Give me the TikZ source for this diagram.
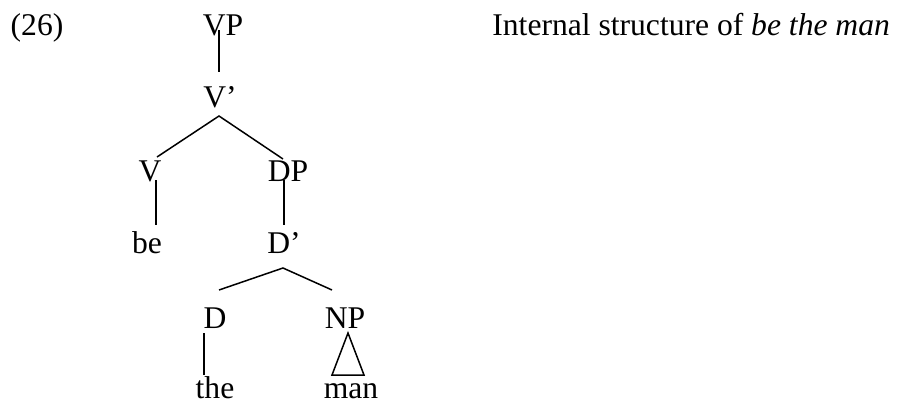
\documentclass[tikz,border=0pt]{standalone}
\usepackage{fontspec}
\setmainfont{Liberation Serif}
\usepackage{tikz}

\begin{document}
\begin{tikzpicture}[x=0.5pt,y=-0.5pt]
        \tikzstyle{word} = [anchor=base,inner sep=0pt,font=\fontsize{15.8}{19}\selectfont]
        \tikzstyle{branch} = [line width=0.75pt]
        \useasboundingbox (0,0) rectangle (897,402);

        \node[word] (num) at (37,35) {(26)};
        \node[word] (vp) at (223,35) {VP};
        \node[word] (vbar) at (220,107) {V'};
        \node[word] (v) at (150,181) {V};
        \node[word] (dp) at (288,181) {DP};
        \node[word] (be) at (147,253) {be};
        \node[word] (dbar) at (284,253) {D'};
        \node[word] (d) at (215,328) {D};
        \node[word] (np) at (345,328) {NP};
        \node[word] (the) at (215,398) {the};
        \node[word] (man) at (351,398) {man};
        \node[word,anchor=base west] (caption) at (492,35) {Internal structure of \textit{be the man}};

        % branches
        \draw [branch] ([shift={(-4,-5)}]vp.base) -- ([shift={(-1,-35)}]vbar.base);
        \draw [branch] ([shift={(7,-24)}]v.base) -- ([shift={(-1,9)}]vbar.base) -- ([shift={(-5,-22)}]dp.base);
        \draw [branch] ([shift={(6,-1)}]v.base) -- ([shift={(9,-28)}]be.base);
        \draw [branch] ([shift={(-4,-1)}]dp.base) -- ([shift={(0,-28)}]dbar.base);
        \draw [branch] ([shift={(4,-38)}]d.base) -- ([shift={(-1,15)}]dbar.base) -- ([shift={(-13,-38)}]np.base);
        \draw [branch] ([shift={(-11,5)}]d.base) -- ([shift={(-11,-23)}]the.base);
        \draw [branch] ([shift={(3,5)}]np.base) -- ([shift={(-19,-23)}]man.base) -- ([shift={(13,-23)}]man.base) -- cycle;
\end{tikzpicture}
\end{document}
